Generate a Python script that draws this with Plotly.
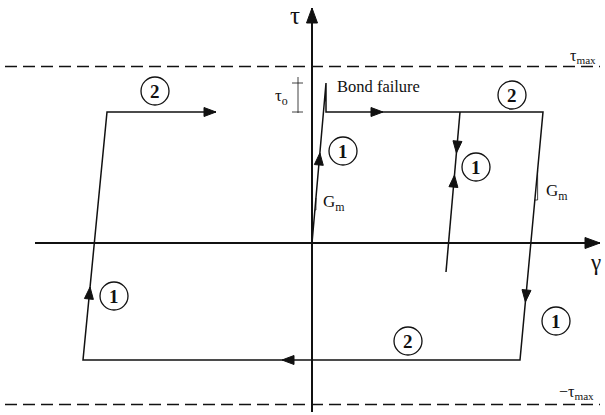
import numpy as np
import plotly.graph_objects as go

# schematic units: 1 unit = 1 px, origin where the two axes cross
loop_gamma = [0, 14, 14, 231, 208, -229, -205, -96]
loop_tau = [0, 160, 131, 131, -117, -117, 131, 131]
inner_gamma = [148, 134]
inner_tau = [131, -29]

tau_max = 176
tau_min = -162
tau_o = [131, 160]

gamma_axis = [-277, 288]
tau_axis = [-169, 235]

circle_gamma = [-157, 200, 96, -198, 31, 164, 244]
circle_tau = [152, 148, -98, -53, 92, 76, -78]
circle_text = ["2", "2", "2", "1", "1", "1", "1"]

# arrow heads: segment start, segment end, approximate tip
arrow_from = [(0, 0), (14, 131), (148, 131), (134, -29), (231, 131), (208, -117), (-229, -117), (-205, 131)]
arrow_to = [(14, 160), (231, 131), (134, -29), (148, 131), (208, -117), (-229, -117), (-205, 131), (-96, 131)]
arrow_tip = [(8, 90), (71, 131), (144, 90), (141, 68), (214, -59), (-30, -117), (-222, -44), (-96, 131)]

INK = "#111111"
SERIF = "Liberation Serif, Times New Roman, serif"


def head(p0, p1, tip, length=12, half=4.5):
    p0, p1, tip = np.array(p0, float), np.array(p1, float), np.array(tip, float)
    d = (p1 - p0) / np.linalg.norm(p1 - p0)
    # snap the tip onto the segment
    tip = p0 + d * np.dot(tip - p0, d)
    n = np.array([-d[1], d[0]])
    base = tip - d * length
    pts = [tip, base + n * half, base - n * half, tip]
    return [p[0] for p in pts], [p[1] for p in pts]


fig = go.Figure()

# dashed tau_max limits
for t in (tau_max, tau_min):
    fig.add_trace(go.Scatter(x=[-307, 288], y=[t + 0.5, t + 0.5], mode="lines",
                             line=dict(color="#111111", width=1.3, dash="12px,6px"),
                             hoverinfo="skip"))

# axes
fig.add_trace(go.Scatter(x=gamma_axis, y=[0, 0], mode="lines",
                         line=dict(color=INK, width=2), hoverinfo="skip"))
fig.add_trace(go.Scatter(x=[0, 0], y=tau_axis, mode="lines",
                         line=dict(color=INK, width=2), hoverinfo="skip"))
for xs, ys in (head((0, 0), (1, 0), (gamma_axis[1], 0), 15, 5.5),
               head((0, 0), (0, 1), (0, tau_axis[1]), 15, 5.5)):
    fig.add_trace(go.Scatter(x=xs, y=ys, mode="lines", fill="toself", fillcolor=INK,
                             line=dict(color=INK, width=1), hoverinfo="skip"))

# hysteresis path
fig.add_trace(go.Scatter(x=loop_gamma, y=loop_tau, mode="lines",
                         line=dict(color=INK, width=1.5), hoverinfo="skip"))
fig.add_trace(go.Scatter(x=inner_gamma, y=inner_tau, mode="lines",
                         line=dict(color=INK, width=1.5), hoverinfo="skip"))

for p0, p1, tip in zip(arrow_from, arrow_to, arrow_tip):
    xs, ys = head(p0, p1, tip)
    fig.add_trace(go.Scatter(x=xs, y=ys, mode="lines", fill="toself", fillcolor=INK,
                             line=dict(color=INK, width=1), hoverinfo="skip"))

# tau_o dimension
fig.add_trace(go.Scatter(x=[-14, -14], y=[tau_o[0] - 1, tau_o[1] + 6], mode="lines",
                         line=dict(color=INK, width=0.8), hoverinfo="skip"))
for t in tau_o:
    fig.add_trace(go.Scatter(x=[-20, -9], y=[t, t], mode="lines",
                             line=dict(color=INK, width=0.8), hoverinfo="skip"))


# G_m slope marks
def on_line(p0, p1, t):
    return p0[0] + (p1[0] - p0[0]) * (t - p0[1]) / (p1[1] - p0[1])


for p0, p1, t_hi, t_lo in (((0, 0), (14, 160), 45, 33), ((208, -117), (231, 131), 73, 43)):
    g_hi = on_line(p0, p1, t_hi)
    g_lo = on_line(p0, p1, t_lo)
    fig.add_trace(go.Scatter(x=[g_hi, g_hi, g_lo], y=[t_hi, t_lo, t_lo], mode="lines",
                             line=dict(color=INK, width=0.8), hoverinfo="skip"))

# circled step numbers
R = 14
for g, t, s in zip(circle_gamma, circle_tau, circle_text):
    fig.add_shape(type="circle", x0=g - R, x1=g + R, y0=t - R, y1=t + R,
                  line=dict(color=INK, width=1.3), xref="x", yref="y")
    fig.add_annotation(x=g, y=t, text="<b>%s</b>" % s, showarrow=False,
                       font=dict(family=SERIF, size=19, color=INK))

labels = [
    (-17, 228, "τ", 25, "center"),
    (283, -19, "γ", 23, "center"),
    (271, 187, "τ<sub>max</sub>", 16, "center"),
    (264, -149, "−τ<sub>max</sub>", 16, "center"),
    (-31, 146, "τ<sub>o</sub>", 17, "center"),
    (23, 157, "Bond failure", 16.5, "left"),
    (9, 40, "G<sub>m</sub>", 17, "left"),
    (232, 51, "G<sub>m</sub>", 17, "left"),
]
for g, t, s, size, anchor in labels:
    fig.add_annotation(x=g, y=t, text=s, showarrow=False, xanchor=anchor,
                       font=dict(family=SERIF, size=size, color=INK))

fig.update_layout(
    width=605, height=415, autosize=False,
    margin=dict(l=0, r=0, t=0, b=0, pad=0),
    paper_bgcolor="white", plot_bgcolor="white",
    showlegend=False,
    xaxis=dict(range=[-312, 293], visible=False, fixedrange=True),
    yaxis=dict(range=[-172, 243], visible=False, fixedrange=True),
)

fig.write_html("out.html", config={"displayModeBar": False},
               post_script="document.body.style.margin='0';")
